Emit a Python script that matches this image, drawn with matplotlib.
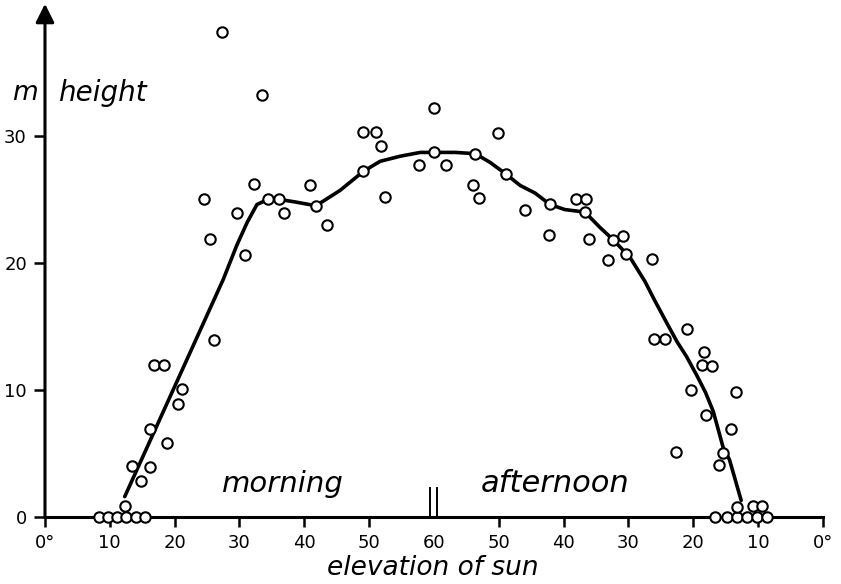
import matplotlib
matplotlib.use("Agg")
import matplotlib.pyplot as plt
import numpy as np

# ---------------- data ----------------
tick_positions = [0, 10, 20, 30, 40, 50, 60, 70, 80, 90, 100, 110, 120]
tick_labels = ["0°", "10", "20", "30", "40", "50", "60", "50", "40", "30", "20", "10", "0°"]
y_ticks = [0, 10, 20, 30]

# morning observations: elevation of sun (deg), height (m)
morning_elev = [8.3, 9.7, 11.1, 12.5, 14.0, 15.4, 12.3, 13.4, 14.8, 16.2, 16.2, 18.8,
                20.5, 21.1, 16.8, 18.4, 26.1, 30.9, 25.5, 24.5, 29.6, 32.3, 27.3, 33.5,
                34.4, 36.1, 36.9, 40.9, 41.8, 43.5, 49.1, 51.1, 51.9, 49.1, 52.5, 57.7,
                60.0, 60.0]
morning_height = [0, 0, 0, 0, 0, 0, 0.9, 4.0, 2.8, 3.9, 6.9, 5.8,
                  8.9, 10.1, 12.0, 12.0, 13.9, 20.6, 21.9, 25.0, 23.9, 26.2, 38.2, 33.2,
                  25.0, 25.0, 23.9, 26.1, 24.5, 23.0, 30.3, 30.3, 29.2, 27.2, 25.2, 27.7,
                  32.2, 28.7]

# afternoon observations: elevation of sun (deg), height (m)
afternoon_elev = [58.1, 53.6, 54.0, 53.0, 50.1, 48.9, 45.9, 42.1, 42.2, 38.1, 36.5, 36.7,
                  36.0, 32.3, 30.8, 30.3, 33.1, 26.3, 20.9, 26.0, 24.3, 18.3, 18.6, 17.1,
                  20.3, 13.4, 18.1, 14.1, 22.6, 15.4, 16.0,
                  16.6, 14.8, 13.2, 11.7, 10.1, 8.6, 13.2, 10.7, 9.4]
afternoon_height = [27.7, 28.6, 26.1, 25.1, 30.2, 27.0, 24.2, 24.6, 22.2, 25.0, 25.0, 24.0,
                    21.9, 21.8, 22.1, 20.7, 20.2, 20.3, 14.8, 14.0, 14.0, 13.0, 12.0, 11.9,
                    10.0, 9.8, 8.0, 6.9, 5.1, 5.0, 4.1,
                    0, 0, 0, 0, 0, 0, 0.8, 0.9, 0.9]

# smoothed curve
curve_morning_elev = [12.3, 27.5, 29.6, 31.2, 32.7, 34.4, 36.1, 38.6, 41.8, 45.5,
                      49.1, 51.7, 54.8, 57.9, 60.0]
curve_morning_height = [1.6, 18.7, 21.4, 23.2, 24.6, 25.0, 25.0, 24.8, 24.5, 25.7,
                        27.2, 28.0, 28.4, 28.7, 28.7]
curve_afternoon_elev = [56.7, 53.6, 51.3, 48.9, 46.7, 44.4, 42.1, 39.8, 36.7, 34.4,
                        32.3, 29.7, 27.4, 26.0, 24.0, 22.5, 21.0, 19.4, 18.1, 16.9, 15.4, 14.4, 12.6]
curve_afternoon_height = [28.7, 28.6, 27.9, 27.0, 26.1, 25.5, 24.6, 24.2, 24.0, 22.8,
                          21.8, 20.4, 18.5, 17.1, 15.2, 13.8, 12.6, 11.1, 9.8, 8.3, 5.5, 4.5, 1.3]

NOON = 60
noon_mark_offsets = [-0.6, 0.4]
noon_mark_height = 2.3

# ---------------- figure ----------------
fig = plt.figure(figsize=(8.41, 5.84), dpi=100)
ax = fig.add_axes([0, 0, 1, 1])
ax.set_xlim(-6.94, 122.8)
ax.set_ylim(-5.28, 40.7)

text_font = dict(family="DejaVu Sans", style="italic")

ax.spines["top"].set_visible(False)
ax.spines["right"].set_visible(False)
ax.spines["left"].set_visible(False)
ax.spines["bottom"].set_position(("data", 0))
ax.spines["bottom"].set_bounds(0, 120)
ax.spines["bottom"].set_linewidth(2.2)

ax.set_xticks(tick_positions)
ax.set_xticklabels(tick_labels)
ax.set_yticks(y_ticks)
ax.set_yticklabels([str(v) for v in y_ticks])
ax.tick_params(axis="x", direction="out", length=7, width=1.8, pad=5, labelsize=13)
ax.tick_params(axis="y", direction="out", length=8, width=1.8, pad=5, labelsize=13)
ax.spines["left"].set_position(("data", 0))
ax.xaxis.get_major_ticks()[6].tick1line.set_visible(False)

# y axis with arrow
ax.annotate("", xy=(0, 40.4), xytext=(0, 0),
            arrowprops=dict(arrowstyle="-|>", lw=2.2, color="black",
                            mutation_scale=28, shrinkA=0, shrinkB=0))

# noon double mark
for off in noon_mark_offsets:
    ax.plot([NOON + off, NOON + off], [0, noon_mark_height], color="black", lw=1.4)

# curve
cx = list(curve_morning_elev) + [120 - e for e in curve_afternoon_elev]
cy = list(curve_morning_height) + list(curve_afternoon_height)
ax.plot(cx, cy, color="black", lw=2.6, solid_capstyle="round", solid_joinstyle="round", zorder=3)

# points
mx = np.array(morning_elev)
ax_x = 120 - np.array(afternoon_elev)
ax.plot(mx, morning_height, "o", ms=7.5, mfc="white", mec="black", mew=1.5, zorder=4, clip_on=False)
ax.plot(ax_x, afternoon_height, "o", ms=7.5, mfc="white", mec="black", mew=1.5, zorder=4, clip_on=False)

# texts
ax.text(36.7, 2.6, "morning", fontsize=21, ha="center", va="center", **text_font)
ax.text(78.7, 2.6, "afternoon", fontsize=22, ha="center", va="center", **text_font)
fig.text(433 / 841, 1 - 575 / 584, "elevation of sun", fontsize=19, ha="center", va="baseline", **text_font)
fig.text(12 / 841, 1 - 93 / 584, "m", fontsize=19, ha="left", va="center", **text_font)
fig.text(58 / 841, 1 - 93 / 584, "height", fontsize=20, ha="left", va="center", **text_font)

fig.savefig("out.png", dpi=100)
